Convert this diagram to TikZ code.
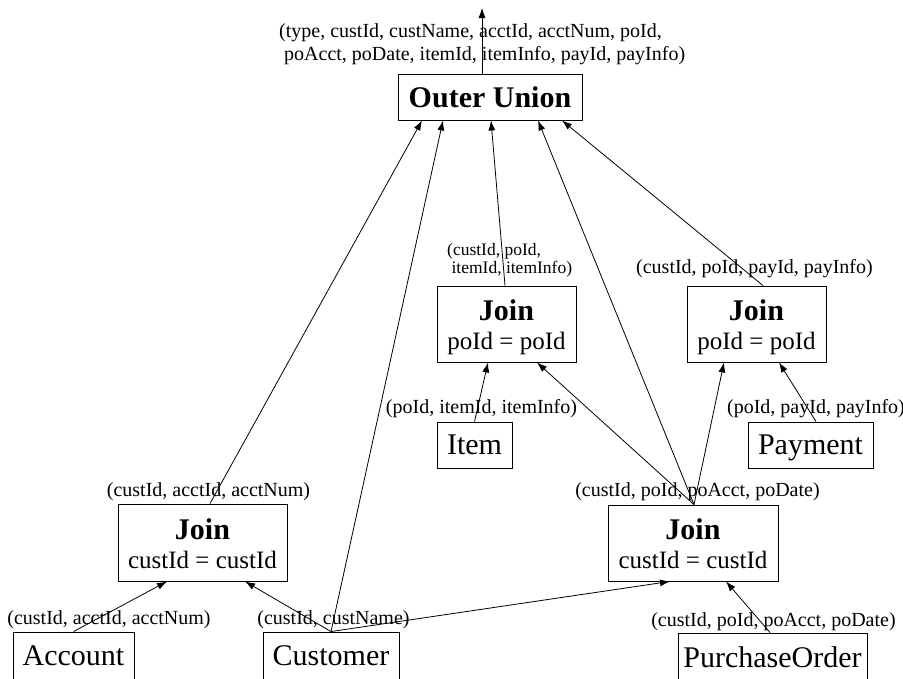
\documentclass[tikz,border=0pt]{standalone}
\usepackage{fontspec}
\setmainfont{Liberation Serif}
\usetikzlibrary{arrows.meta}

\tikzset{
  box/.style={draw, line width=0.9pt, inner sep=0pt, text depth=0pt, font=\fontsize{30}{36}\selectfont},
  joinbox/.style={draw, line width=0.9pt, inner sep=0pt, align=center, font=\fontsize{25}{29}\selectfont},
  lbl/.style={inner sep=0pt, anchor=base, font=\fontsize{20}{23}\selectfont},
  flow/.style={line width=0.8pt, -{Latex[length=10pt,width=7pt]}}
}
\newcommand{\joinhead}{\rule{0pt}{28pt}{\fontsize{30}{29}\selectfont\bfseries Join}}

\begin{document}
\begin{tikzpicture}[x=1pt, y=-1pt]
\useasboundingbox (0,0) rectangle (903,678);

% operators
\node[box, minimum width=184pt, minimum height=46pt] (ou) at (490,97) {\bfseries Outer Union};
\node[joinbox, minimum width=169pt, minimum height=77pt] (joinAcct) at (202.5,542.5) {\joinhead\\\vphantom{p}custId = custId};
\node[joinbox, minimum width=170pt, minimum height=76pt] (joinPo) at (693,543) {\joinhead\\\vphantom{p}custId = custId};
\node[joinbox, minimum width=139pt, minimum height=76pt] (joinItem) at (506.5,324) {\joinhead\\poId = poId};
\node[joinbox, minimum width=139pt, minimum height=76pt] (joinPay) at (756.5,324) {\joinhead\\poId = poId};

% tables
\node[box, minimum width=121pt, minimum height=48pt] (account) at (73.5,656) {Account};
\node[box, minimum width=136pt, minimum height=48pt] (customer) at (331,656) {Customer};
\node[box, minimum width=189pt, minimum height=48pt] (po) at (772.5,657) {PurchaseOrder};
\node[box, minimum width=75pt, minimum height=46pt] (item) at (474.5,445) {Item};
\node[box, minimum width=125pt, minimum height=46pt] (payment) at (810.5,445) {Payment};

% column lists
\node[lbl, anchor=north west, align=left] (lOu) at (279,23) {(type, custId, custName, acctId, acctNum, poId,\\\hspace*{.25em}poAcct, poDate, itemId, itemInfo, payId, payInfo)};
\node[lbl, anchor=north west, align=left, font=\fontsize{17.5}{18}\selectfont] (lJoinItem) at (447,243.5) {(custId, poId,\\\hspace*{.25em}itemId, itemInfo)};
\node[lbl] (lJoinPay) at (754.5,273) {(custId, poId, payId, payInfo)};
\node[lbl] (lItem) at (481.5,413) {(poId, itemId, itemInfo)};
\node[lbl] (lPayment) at (816,413) {(poId, payId, payInfo)};
\node[lbl] (lJoinAcct) at (208.5,496) {(custId, acctId, acctNum)};
\node[lbl] (lJoinPo) at (697.5,496) {(custId, poId, poAcct, poDate)};
\node[lbl] (lAccount) at (109,624) {(custId, acctId, acctNum)};
\node[lbl] (lCustomer) at (333.5,624) {(custId, custName)};
\node[lbl] (lPo) at (773.5,626) {(custId, poId, poAcct, poDate)};

% result
\coordinate (out) at (482,8);
\draw[flow] ([xshift=-8pt]ou.north) -- (out);

% into the outer union
\draw[flow] ([xshift=7.5pt]joinAcct.north) -- ([xshift=-68pt]ou.south);
\draw[flow] (customer.north) -- ([xshift=-47pt]ou.south);
\draw[flow] ([xshift=-1.5pt]joinItem.north) -- ([xshift=1pt]ou.south);
\draw[flow] ([xshift=1pt]joinPo.north) -- ([xshift=48pt]ou.south);
\draw[flow] ([xshift=6.5pt]joinPay.north) -- ([xshift=72pt]ou.south);

% into the joins
\draw[flow] (item.north) -- ([xshift=-18.5pt]joinItem.south);
\draw[flow] ([xshift=1pt]joinPo.north) -- ([xshift=30.5pt]joinItem.south);
\draw[flow] ([xshift=1pt]joinPo.north) -- ([xshift=-32.5pt]joinPay.south);
\draw[flow] ([xshift=5.5pt]payment.north) -- ([xshift=22.5pt]joinPay.south);
\draw[flow] (account.north) -- ([xshift=-35.5pt]joinAcct.south);
\draw[flow] (customer.north) -- ([xshift=42.5pt]joinAcct.south);
\draw[flow] (customer.north) -- ([xshift=-23pt]joinPo.south);
\draw[flow] ([xshift=-2.5pt]po.north) -- ([xshift=33pt]joinPo.south);
\end{tikzpicture}
\end{document}
